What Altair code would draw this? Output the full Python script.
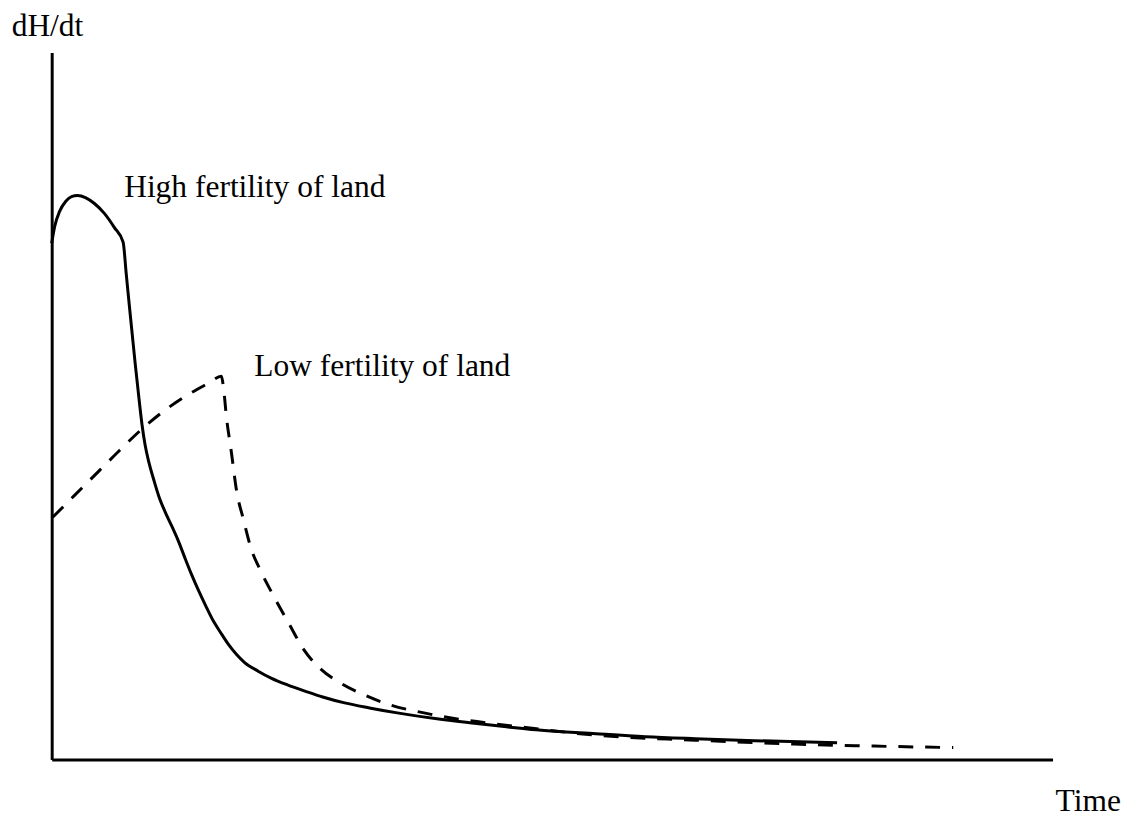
import altair as alt
import pandas as pd

# High fertility of land (solid curve)
high_t = [0.0, 0.30, 0.79, 1.39, 1.98, 2.58, 3.37, 4.27, 5.26, 6.25, 7.14,
          7.44, 7.74, 8.04, 8.33, 8.63, 9.03, 9.33, 9.72, 10.22, 10.71, 11.31, 12.00,
          12.70, 13.39, 13.99, 14.68, 15.38, 16.07, 16.87, 17.66, 18.45, 19.25, 20.63,
          21.92, 23.61, 25.30, 27.08, 29.27, 31.75, 34.52, 38.49, 41.77, 45.44, 48.41,
          54.37, 59.33, 64.29, 70.24, 78.47]
high_v = [73.03, 75.42, 77.53, 78.93, 79.63, 79.78, 79.49, 78.65, 77.25, 75.28, 73.17,
          68.82, 64.47, 60.25, 56.18, 52.25, 47.33, 44.52, 41.99, 39.47, 37.22, 35.11, 33.01,
          30.76, 28.23, 26.12, 23.88, 21.77, 19.80, 17.98, 16.29, 14.89, 13.76, 12.50,
          11.52, 10.53, 9.69, 8.85, 8.01, 7.30, 6.60, 5.76, 5.20, 4.63, 4.21,
          3.65, 3.23, 2.95, 2.67, 2.39]

# Low fertility of land (dashed curve)
low_t = [0.10, 2.28, 4.76, 6.75, 9.03, 11.21, 13.39, 15.67, 16.96,
         17.16, 17.46, 17.96, 18.45, 19.15, 19.94, 20.83, 22.32, 23.81, 25.10, 26.79,
         28.87, 31.25, 33.83, 37.20, 39.78, 43.45, 48.41, 54.37, 64.29, 74.21, 82.14, 90.08]
low_v = [34.27, 37.36, 40.87, 43.68, 46.77, 49.30, 51.40, 53.23, 54.21,
         52.67, 48.46, 43.40, 38.20, 33.99, 29.78, 26.83, 22.75, 18.96, 15.73, 12.92,
         10.81, 9.13, 7.72, 6.60, 5.90, 5.20, 4.35, 3.44, 2.74, 2.18, 1.90, 1.69]

# Annotations
labels = ["High fertility of land", "Low fertility of land", "dH/dt", "Time"]
label_t = [7.24, 20.24, -4.0, 100.3]
label_v = [79.6, 54.2, 102.4, -7.3]

df_high = pd.DataFrame({"t": high_t, "v": high_v, "i": list(range(len(high_t)))})
df_low = pd.DataFrame({"t": low_t, "v": low_v, "i": list(range(len(low_t)))})
df_lab = pd.DataFrame({"t": label_t, "v": label_v, "label": labels})

axis_x = alt.Axis(domain=True, domainColor="black", domainWidth=3, ticks=False,
                  labels=False, grid=False, title=None)
axis_y = alt.Axis(domain=True, domainColor="black", domainWidth=3, ticks=False,
                  labels=False, grid=False, title=None)
X = alt.X("t:Q", scale=alt.Scale(domain=[0, 100], nice=False, zero=False), axis=axis_x)
Y = alt.Y("v:Q", scale=alt.Scale(domain=[0, 100], nice=False, zero=False), axis=axis_y)

high = alt.Chart(df_high).mark_line(color="black", strokeWidth=3, interpolate="monotone").encode(
    x=X, y=Y, order="i:Q")
low = alt.Chart(df_low).mark_line(color="black", strokeWidth=3, strokeDash=[15, 12],
                                  interpolate="monotone").encode(x=X, y=Y, order="i:Q")
text = alt.Chart(df_lab).mark_text(font="Liberation Serif", fontSize=31.7, color="black",
                                   align="left", baseline="alphabetic").encode(
    x=X, y=Y, text="label:N")

chart = alt.layer(high, low, text).properties(
    width=1008, height=712,
    autosize=alt.AutoSizeParams(type="none"),
    padding={"left": 44, "top": 42, "right": 77, "bottom": 60},
    background="white",
).configure_view(stroke=None)

chart.save("out.html", embed_options={"renderer": "svg", "actions": False})
